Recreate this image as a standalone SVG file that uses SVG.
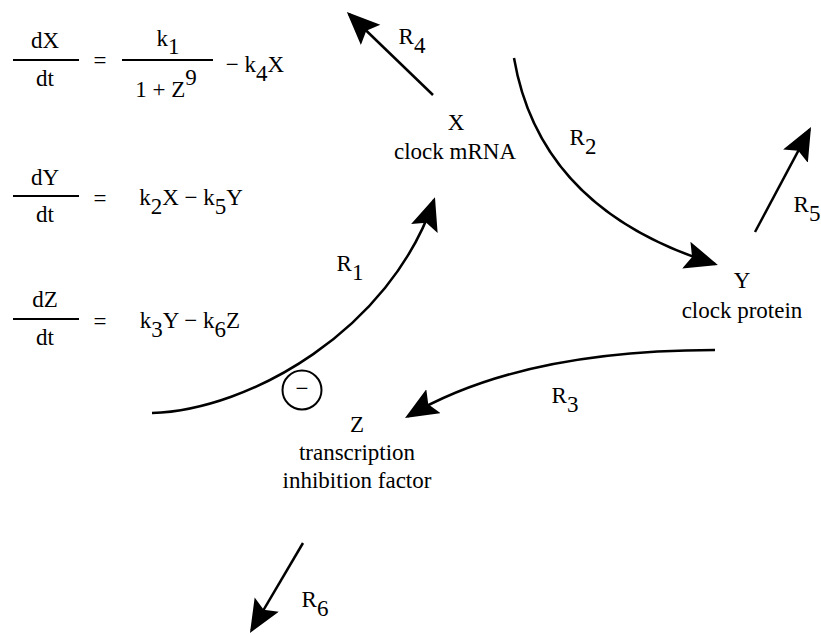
<svg xmlns="http://www.w3.org/2000/svg" width="821" height="634" viewBox="0 0 821 634">
<style>
text { font-family: "Liberation Serif", "Times New Roman", serif; font-size: 23px; fill: #000; text-anchor: middle; }
.frac { stroke: #000; stroke-width: 2; fill: none; }
.conn { stroke: #000; stroke-width: 2.5; fill: none; marker-end: url(#head); }
.inhib { stroke: #000; stroke-width: 2; fill: none; }
</style>
<defs>
<marker id="head" markerUnits="userSpaceOnUse" markerWidth="34" markerHeight="30" refX="30" refY="14" orient="auto">
<path d="M0,0 L33,14 L0,28 L6,14 Z" fill="#000"/>
</marker>
</defs>

<g id="equations">
<g id="eq-x">
<text x="45" y="48">dX</text>
<line class="frac" x1="13" y1="60" x2="79" y2="60"/>
<text x="45" y="86">dt</text>
<text x="100" y="68">=</text>
<text x="168" y="46">k<tspan dy="8">1</tspan></text>
<line class="frac" x1="122" y1="60" x2="213" y2="60"/>
<text x="166" y="97">1 + Z<tspan dy="-12">9</tspan></text>
<text x="255" y="72">− k<tspan dy="9">4</tspan><tspan dy="-9">X</tspan></text>
</g>
<g id="eq-y">
<text x="45" y="185">dY</text>
<line class="frac" x1="13" y1="196" x2="79" y2="196"/>
<text x="45" y="222">dt</text>
<text x="100" y="206">=</text>
<text x="191" y="205">k<tspan dy="9">2</tspan><tspan dy="-9">X − k</tspan><tspan dy="9">5</tspan><tspan dy="-9">Y</tspan></text>
</g>
<g id="eq-z">
<text x="45" y="307">dZ</text>
<line class="frac" x1="13" y1="319" x2="79" y2="319"/>
<text x="45" y="345">dt</text>
<text x="100" y="329">=</text>
<text x="190" y="328">k<tspan dy="9">3</tspan><tspan dy="-9">Y − k</tspan><tspan dy="9">6</tspan><tspan dy="-9">Z</tspan></text>
</g>
</g>

<g id="node-x">
<text x="456" y="130">X</text>
<text x="455" y="159">clock mRNA</text>
</g>
<g id="node-y">
<text x="742" y="288">Y</text>
<text x="742" y="318">clock protein</text>
</g>
<g id="node-z">
<text x="357" y="432">Z</text>
<text x="357" y="460">transcription</text>
<text x="357" y="488">inhibition factor</text>
</g>
<g id="inhibition">
<circle class="inhib" cx="302" cy="390" r="19.5"/>
<text x="302" y="396">−</text>
</g>

<g id="connectors">
<path id="r1" class="conn" d="M152,413 C250,410 390,330 434,200"/>
<path id="r2" class="conn" d="M514,58 Q540,210 715,264"/>
<path id="r3" class="conn" d="M715,350 Q520,350 407.6,416.5"/>
<path id="r4" class="conn" d="M433,95 L349,14"/>
<path id="r5" class="conn" d="M755,232 L809.6,129.6"/>
<path id="r6" class="conn" d="M303,543 L251.5,630.4"/>
</g>

<g id="labels">
<text x="350" y="271">R<tspan dy="9">1</tspan></text>
<text x="583" y="145">R<tspan dy="9">2</tspan></text>
<text x="565" y="403">R<tspan dy="9">3</tspan></text>
<text x="412" y="44">R<tspan dy="9">4</tspan></text>
<text x="807" y="212">R<tspan dy="9">5</tspan></text>
<text x="315" y="607">R<tspan dy="9">6</tspan></text>
</g>
</svg>
